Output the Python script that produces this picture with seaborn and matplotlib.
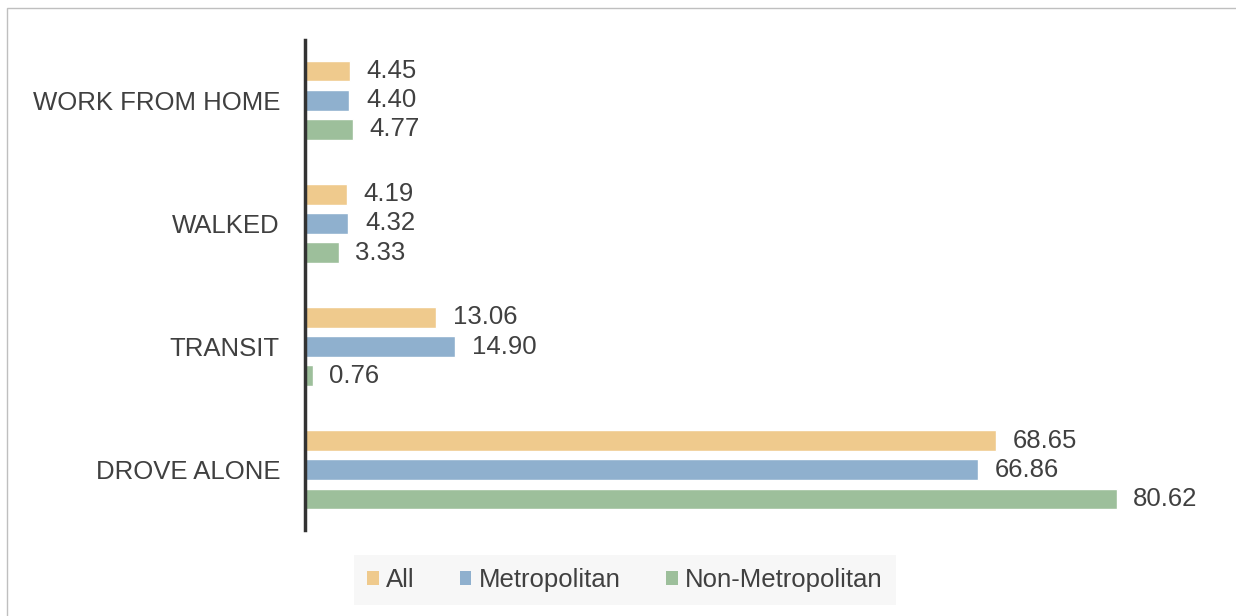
import pandas as pd
import numpy as np
import matplotlib.pyplot as plt
import seaborn as sns
from matplotlib.patches import Rectangle, Patch

# data
modes = ["WORK FROM HOME", "WALKED", "TRANSIT", "DROVE ALONE"]
groups = ["All", "Metropolitan", "Non-Metropolitan"]
all_vals = [4.45, 4.19, 13.06, 68.65]
metro_vals = [4.40, 4.32, 14.90, 66.86]
nonmetro_vals = [4.77, 3.33, 0.76, 80.62]
colors = ["#EFCA8D", "#8FB0CE", "#9DBF9B"]

df = pd.DataFrame({
    "mode": modes * 3,
    "group": [g for g in groups for _ in modes],
    "value": all_vals + metro_vals + nonmetro_vals,
})

sns.set_style("white")
plt.rcParams['font.family'] = ['Liberation Sans', 'DejaVu Sans']
fs = 18.5

fig = plt.figure(figsize=(12.36, 6.16), dpi=100)
ax = fig.add_axes([305 / 1236, 1 - 530 / 616, (1211 - 305) / 1236, 490 / 616])

sns.barplot(data=df, x="value", y="mode", hue="group", order=modes,
            hue_order=groups, palette=colors, width=0.71, gap=0.3,
            orient="h", ax=ax, legend=False, saturation=1)

for cont in ax.containers:
    ax.bar_label(cont, fmt="%.2f", padding=12, fontsize=fs, color="#404040")

ax.set_xlim(0, 90)
ax.set_ylim(3.49, -0.49)
ax.set_xlabel("")
ax.set_ylabel("")
ax.set_xticks([])
ax.tick_params(axis="y", length=0, pad=18, labelsize=fs, labelcolor="#404040")
for s in ["top", "right", "bottom"]:
    ax.spines[s].set_visible(False)
ax.spines["left"].set_color("#333333")
ax.spines["left"].set_linewidth(2.5)

handles = [Patch(facecolor=c, edgecolor="none") for c in colors]
leg = fig.legend(handles, groups, loc="center", bbox_to_anchor=(625 / 1236, 1 - 580 / 616),
                 ncol=3, frameon=True, fontsize=fs, handlelength=0.45, handleheight=0.45,
                 handletextpad=0.3, columnspacing=1.75, borderpad=0.5, borderaxespad=0)
leg.get_frame().set_facecolor("#F6F6F6")
leg.get_frame().set_edgecolor("none")
leg.get_frame().set_boxstyle("square", pad=0)
for t in leg.get_texts():
    t.set_color("#404040")

fig.patches.append(Rectangle((7 / 1236, -0.1), 1.2, 1 - 8 / 616 + 0.1,
                             transform=fig.transFigure, fill=False,
                             edgecolor="#BFBFBF", linewidth=1))

fig.savefig("out.png", dpi=100)
